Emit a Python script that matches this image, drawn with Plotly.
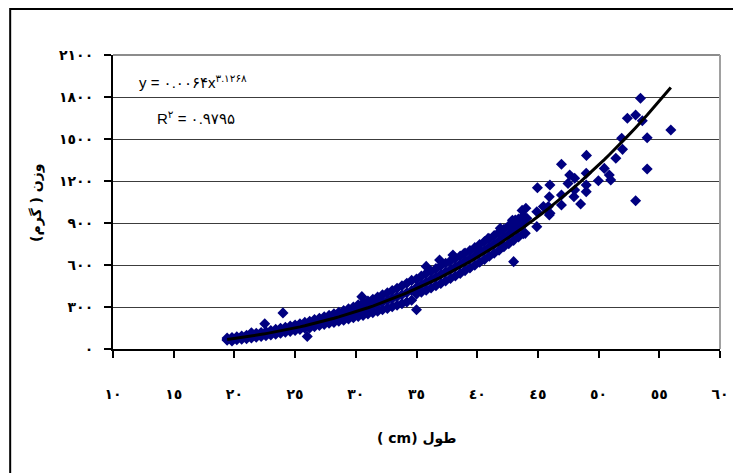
import plotly.graph_objects as go

# ---------------- data ----------------
# dense band of measurements (length cm, weight g)
band_x = [
    19.4, 19.4, 19.4, 19.8, 19.8, 19.8, 20.2, 20.2, 20.2, 20.6, 20.6, 20.6,
    21.0, 21.0, 21.0, 21.4, 21.4, 21.4, 21.4, 21.8, 21.8, 21.8, 22.2, 22.2, 22.2,
    22.5, 22.6, 22.6, 22.6, 23.0, 23.0, 23.0, 23.4, 23.4, 23.4, 23.8, 23.8, 23.8,
    24.0, 24.2, 24.2, 24.2, 24.6, 24.6, 24.6, 25.0, 25.0, 25.0, 25.4, 25.4, 25.4,
    25.8, 25.8, 25.8, 26.0, 26.2, 26.2, 26.2, 26.6, 26.6, 26.6, 27.0, 27.0, 27.0,
    27.4, 27.4, 27.4, 27.8, 27.8, 27.8, 28.2, 28.2, 28.2, 28.6, 28.6, 28.6,
    29.0, 29.0, 29.0, 29.4, 29.4, 29.4, 29.8, 29.8, 29.8, 30.2, 30.2, 30.2,
    30.5, 30.6, 30.6, 30.6, 31.0, 31.0, 31.0, 31.4, 31.4, 31.4, 31.8, 31.8, 31.8,
    32.2, 32.2, 32.2, 32.6, 32.6, 32.6, 33.0, 33.0, 33.0, 33.4, 33.4, 33.4,
    33.8, 33.8, 33.8, 34.2, 34.2, 34.2, 34.6, 34.6, 34.6,
    35.0, 35.0, 35.0, 35.0, 35.4, 35.4, 35.4, 35.8, 35.8, 35.8, 35.8,
    36.2, 36.2, 36.2, 36.6, 36.6, 36.6, 36.9, 37.0, 37.0, 37.0, 37.4, 37.4, 37.4,
    37.8, 37.8, 37.8, 38.0, 38.2, 38.2, 38.2, 38.6, 38.6, 38.6, 38.9,
    39.0, 39.0, 39.0, 39.4, 39.4, 39.4, 39.8, 39.8, 39.8, 40.0,
    40.2, 40.2, 40.2, 40.6, 40.6, 40.6, 40.9, 41.0, 41.0, 41.0, 41.4, 41.4, 41.4,
    41.8, 41.8, 41.8, 41.9, 42.2, 42.2, 42.2, 42.6, 42.6, 42.6, 42.9,
    43.0, 43.0, 43.0, 43.0, 43.4, 43.4, 43.4, 43.7, 43.8, 43.8, 43.8,
]
band_y = [
    62, 70, 78, 58, 72, 82, 66, 76, 88, 70, 80, 92,
    74, 86, 98, 78, 92, 104, 116, 84, 98, 112, 90, 104, 118,
    180, 94, 110, 124, 100, 116, 132, 106, 122, 140, 112, 130, 148,
    258, 120, 136, 156, 126, 142, 164, 132, 150, 172, 140, 160, 180,
    148, 168, 190, 90, 150, 176, 198, 160, 184, 210, 168, 192, 220,
    176, 202, 230, 184, 210, 240, 190, 220, 252, 198, 228, 262,
    206, 240, 274, 214, 250, 288, 224, 262, 300, 232, 272, 316,
    374, 240, 284, 328, 250, 296, 342, 260, 308, 356, 270, 320, 372,
    280, 334, 388, 290, 346, 402, 302, 360, 418, 312, 374, 434,
    324, 388, 452, 336, 402, 470, 348, 418, 490,
    280, 392, 440, 500, 406, 460, 522, 420, 478, 540, 590,
    436, 496, 556, 452, 514, 574, 636, 468, 532, 594, 486, 550, 612,
    504, 568, 630, 672, 522, 588, 648, 540, 606, 664, 680,
    560, 626, 686, 578, 644, 704, 598, 664, 724, 722,
    620, 686, 746, 640, 706, 768, 790, 662, 728, 788, 684, 750, 810,
    706, 772, 834, 862, 730, 796, 856, 752, 818, 880, 920,
    624, 776, 842, 904, 800, 866, 928, 990, 824, 890, 950,
]

# sparse upper part of the cloud
upper_x = [
    44.09, 44.01, 43.96, 43.41, 43.14, 42.73, 44.91, 44.91, 44.96, 45.45,
    45.86, 45.94, 45.94, 45.99, 46.00, 46.94, 46.94, 46.94, 47.48, 47.62,
    48.03, 48.03, 47.97, 48.52, 48.98, 48.98, 48.98, 49.00, 49.98, 50.47,
    50.88, 51.00, 51.42, 51.97, 51.90, 52.37, 53.05, 53.60, 53.45, 54.00,
    54.00, 53.05, 55.95,
]
upper_y = [
    934, 1005, 826, 874, 921, 886, 981, 874, 1152, 1017,
    1017, 957, 1088, 1171, 969, 1319, 1100, 1029, 1183, 1243,
    1219, 1136, 1088, 1036, 1255, 1171, 1124, 1383, 1202, 1290,
    1243, 1207, 1362, 1426, 1505, 1648, 1671, 1631, 1791, 1509,
    1286, 1059, 1564,
]

# power trend line printed on the chart: y = a * x^b
trend_a = 0.0064
trend_b = 3.1268

x_ticks = [10, 15, 20, 25, 30, 35, 40, 45, 50, 55, 60]
x_tick_text = ["١٠", "١٥", "٢٠", "٢٥", "٣٠", "٣٥", "٤٠", "٤٥", "٥٠", "٥٥", "٦٠"]
y_ticks = [0, 300, 600, 900, 1200, 1500, 1800, 2100]
y_tick_text = ["٠", "٣٠٠", "٦٠٠", "٩٠٠", "١٢٠٠", "١٥٠٠", "١٨٠٠", "٢١٠٠"]

eq_text = "y = ۰.۰۰۶۴x<sup>۳.۱۲۶۸</sup>"
r2_text = "R<sup>۲</sup> = ۰.۹۷۹۵"
x_title = "( cm) طول"
y_title = "(\u200eگرم\u200e )\u200e وزن"

# ---------------- figure ----------------
all_x = band_x + upper_x
all_y = band_y + upper_y
trend_x = sorted(set(all_x))
trend_y = [trend_a * v ** trend_b for v in trend_x]

OFF = 8                      # page body margin of the html page
W, H = 741 - OFF, 473 - OFF
# plot area in screen pixels, converted to figure pixels
L, R, T, B = 113 - OFF, 727 - OFF, 55 - OFF, 349 - OFF
pw, ph = R - L, B - T

def px(xs):
    return (xs - OFF - L) / pw

def py(ys):
    return (B - (ys - OFF)) / ph

fig = go.Figure()
fig.add_trace(go.Scatter(
    x=all_x, y=all_y, mode="markers",
    marker=dict(symbol="diamond", size=8.5, color="#000080",
                line=dict(width=0)),
    hoverinfo="x+y", showlegend=False,
))
fig.add_trace(go.Scatter(
    x=trend_x, y=trend_y, mode="lines",
    line=dict(color="black", width=3),
    hoverinfo="skip", showlegend=False,
))

font_main = "Liberation Sans, Arial, DejaVu Sans, sans-serif"

fig.update_layout(
    width=W, height=H,
    margin=dict(l=L, r=W - R, t=T, b=H - B, pad=0),
    paper_bgcolor="white", plot_bgcolor="white",
    font=dict(family=font_main, color="black"),
    xaxis=dict(
        range=[10, 60], tickvals=x_ticks, ticktext=x_tick_text,
        showgrid=False, zeroline=False,
        showline=True, linecolor="black", linewidth=2,
        ticks="outside", ticklen=7, tickwidth=1.5, tickcolor="black",
        ticklabelstandoff=24,
        tickfont=dict(size=14, family="DejaVu Sans", weight="bold"),
    ),
    yaxis=dict(
        range=[0, 2100], tickvals=y_ticks, ticktext=y_tick_text,
        showgrid=True, gridcolor="#3c3c3c", gridwidth=1,
        zeroline=False,
        showline=True, linecolor="black", linewidth=2,
        ticks="outside", ticklen=7, tickwidth=1.5, tickcolor="black",
        ticklabelstandoff=8,
        tickfont=dict(size=14, family="DejaVu Sans", weight="bold"),
    ),
    shapes=[
        # plot-area border (top, right) in gray
        dict(type="line", xref="paper", yref="paper", x0=0, x1=1, y0=1, y1=1,
             line=dict(color="#8c8c8c", width=2)),
        dict(type="line", xref="paper", yref="paper", x0=1, x1=1, y0=0, y1=1,
             line=dict(color="#a0a0a0", width=2)),
        # outer chart frame
        dict(type="rect", xref="paper", yref="paper",
             x0=px(9), x1=px(770), y0=py(500), y1=py(9),
             line=dict(color="black", width=2), fillcolor="rgba(0,0,0,0)",
             layer="below"),
    ],
    annotations=[
        dict(text=eq_text, xref="paper", yref="paper", x=px(137), y=py(81),
             xanchor="left", yanchor="middle", showarrow=False,
             font=dict(size=15, family=font_main)),
        dict(text=r2_text, xref="paper", yref="paper", x=px(155), y=py(117),
             xanchor="left", yanchor="middle", showarrow=False,
             font=dict(size=15, family=font_main)),
        dict(text=x_title, xref="paper", yref="paper", x=px(420), y=py(438),
             xanchor="center", yanchor="middle", showarrow=False,
             font=dict(size=14, family="DejaVu Sans", weight="bold")),
        dict(text=y_title, xref="paper", yref="paper", x=px(35), y=py(203),
             xanchor="center", yanchor="middle", showarrow=False, textangle=-90,
             font=dict(size=14, family="DejaVu Sans", weight="bold")),
    ],
)

fig.write_html("out.html")
